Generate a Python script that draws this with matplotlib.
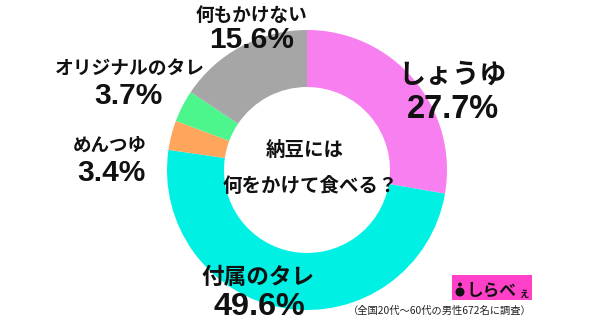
import matplotlib
matplotlib.use("Agg")
import matplotlib.pyplot as plt
from matplotlib.patches import Rectangle, Circle

categories = ["しょうゆ", "付属のタレ", "めんつゆ", "オリジナルのタレ", "何もかけない"]
values = [27.7, 49.6, 3.4, 3.7, 15.6]
labels_pct = ["27.7%", "49.6%", "3.4%", "3.7%", "15.6%"]
colors = ["#F77FF0", "#00F0E4", "#FFA65C", "#4CF68C", "#A6A6A6"]
title_lines = ["納豆には", "何をかけて食べる？"]
footnote = "（全国20代～60代の男性672名に調査）"
brand_main = "しらべ"
brand_small = "ぇ"

W, H = 600, 322
fig = plt.figure(figsize=(W / 100, H / 100), dpi=100)
ax = fig.add_axes([0, 0, 1, 1])

cx, cy = 307, H - 170
R_out, R_in = 140, 83
ax.pie(values, colors=colors, startangle=90, counterclock=False,
       center=(cx, cy), radius=R_out,
       wedgeprops=dict(width=R_out - R_in, edgecolor="none", linewidth=0))
ax.set_xlim(0, W)
ax.set_ylim(0, H)
ax.set_aspect("equal")
ax.axis("off")

jp = ["Noto Sans CJK JP", "DejaVu Sans"]
num = ["Liberation Sans", "DejaVu Sans"]

# (label x, label y, label size, pct x, pct y, pct size) in pixel coords
layout = {
    "しょうゆ": (453, 75, 19.5, 453, 109, 23.5),
    "付属のタレ": (258, 277, 16.3, 259, 307, 23.3),
    "めんつゆ": (110, 145, 13.3, 111, 173, 21.5),
    "オリジナルのタレ": (130, 68, 13.5, 128, 96, 21.5),
    "何もかけない": (251, 15, 13.4, 252, 40, 21.5),
}
for cat, pct in zip(categories, labels_pct):
    lx, ly, ls, px, py, ps = layout[cat]
    ax.text(lx, H - ly, cat, family=jp, weight="bold", fontsize=ls,
            ha="center", va="center", color="#111111")
    ax.text(px, H - py, pct, family=num, weight="bold", fontsize=ps,
            ha="center", va="center", color="#111111")

ax.text(305, H - 150, title_lines[0], family=jp, weight="bold", fontsize=14,
        ha="center", va="center", color="#111111")
ax.text(310, H - 186, title_lines[1], family=jp, weight="bold", fontsize=14,
        ha="center", va="center", color="#111111")

ax.text(532, H - 311, footnote, family=jp, fontsize=7.4,
        ha="right", va="center", color="#222222")

# logo
ax.add_patch(Rectangle((452, H - 300), 80, 25, facecolor="#FF40C8",
                       edgecolor="none"))
ax.add_patch(Circle((460, H - 292), 4.5, facecolor="#111111", edgecolor="none"))
ax.add_patch(Circle((460, H - 284.5), 2, facecolor="#111111", edgecolor="none"))
ax.text(466, H - 291, brand_main, family=jp, weight="bold", fontsize=12,
        ha="left", va="center", color="#111111")
ax.text(518, H - 293, brand_small, family=jp, weight="bold", fontsize=8,
        ha="left", va="center", color="#111111")

fig.savefig("out.png", dpi=100)
